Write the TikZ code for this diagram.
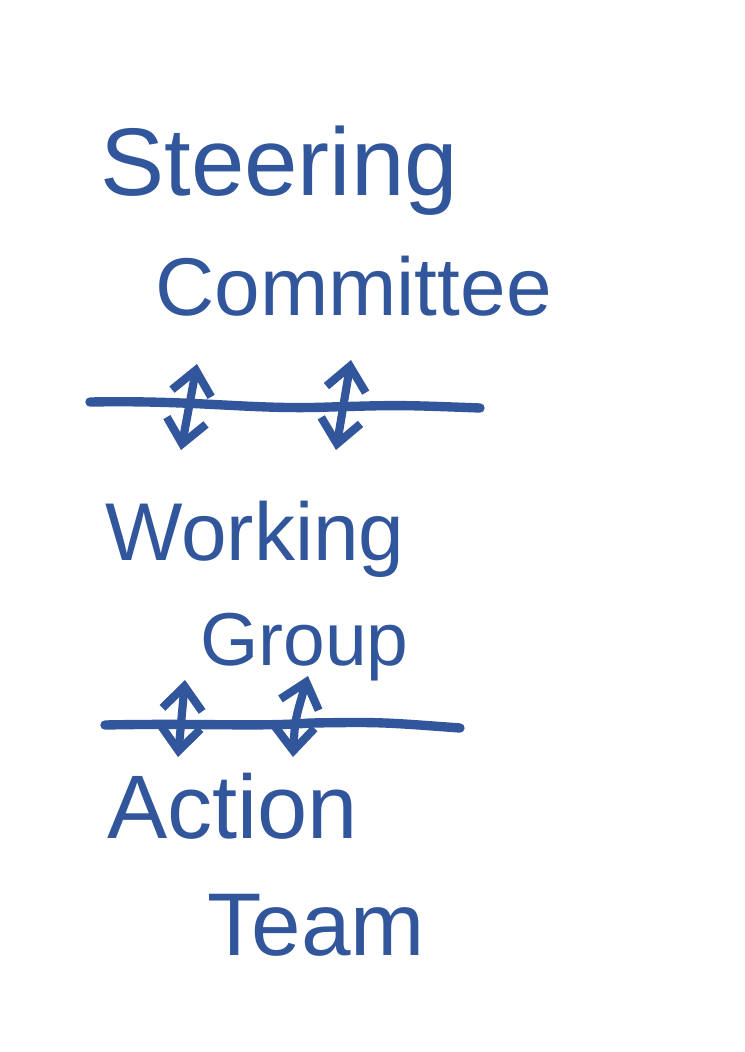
\documentclass[tikz,border=0pt]{standalone}
\usepackage{fontspec}
\setmainfont{Liberation Sans}
\usetikzlibrary{arrows.meta}
\definecolor{ink}{RGB}{50,86,155}

\begin{document}
\begin{tikzpicture}[
  x=0.03cm, y=-0.03cm,
  word/.style={anchor=base west, inner sep=0pt, text=ink},
  rule/.style={draw=ink, line width=8pt, line cap=round},
  dbl/.style={draw=ink, line width=7pt,
              {Straight Barb[length=20pt, width=34pt]}-{Straight Barb[length=20pt, width=34pt]}}
]
\useasboundingbox (0,0) rectangle (744,1052);

% titles
\node[word, font=\fontsize{82}{86}\selectfont] (steering)  at (100,195) {Steering};
\node[word, font=\fontsize{70}{74}\selectfont] (committee) at (155,315) {Committee};
\node[word, font=\fontsize{70}{74}\selectfont] (working)   at (105,560) {Working};
\node[word, font=\fontsize{64}{68}\selectfont] (group)     at (200,665) {Group};
\node[word, font=\fontsize{77}{80}\selectfont] (action)    at (107,838) {Action};
\node[word, font=\fontsize{76}{80}\selectfont] (team)      at (207,955) {Team};

% dividing lines
\draw[rule] (90,402) .. controls (200,400) and (250,410) .. (330,407)
            .. controls (400,405) .. (480,408);
\draw[rule] (105,725) .. controls (200,723) and (260,727) .. (310,723)
            .. controls (380,722) .. (460,728);

% arrow ends
\coordinate (a1top) at (197,364);
\coordinate (a1bot) at (181,450);
\coordinate (a2top) at (351,360);
\coordinate (a2bot) at (336,450);
\coordinate (a3top) at (185,680);
\coordinate (a3bot) at (178,757);
\coordinate (a4top) at (308,676);
\coordinate (a4bot) at (293,757);

\draw[dbl] (a1bot) -- (a1top);
\draw[dbl] (a2bot) -- (a2top);
\draw[dbl] (a3bot) -- (a3top);
\draw[dbl] (a4bot) .. controls (295,720) .. (a4top);

\end{tikzpicture}
\end{document}
